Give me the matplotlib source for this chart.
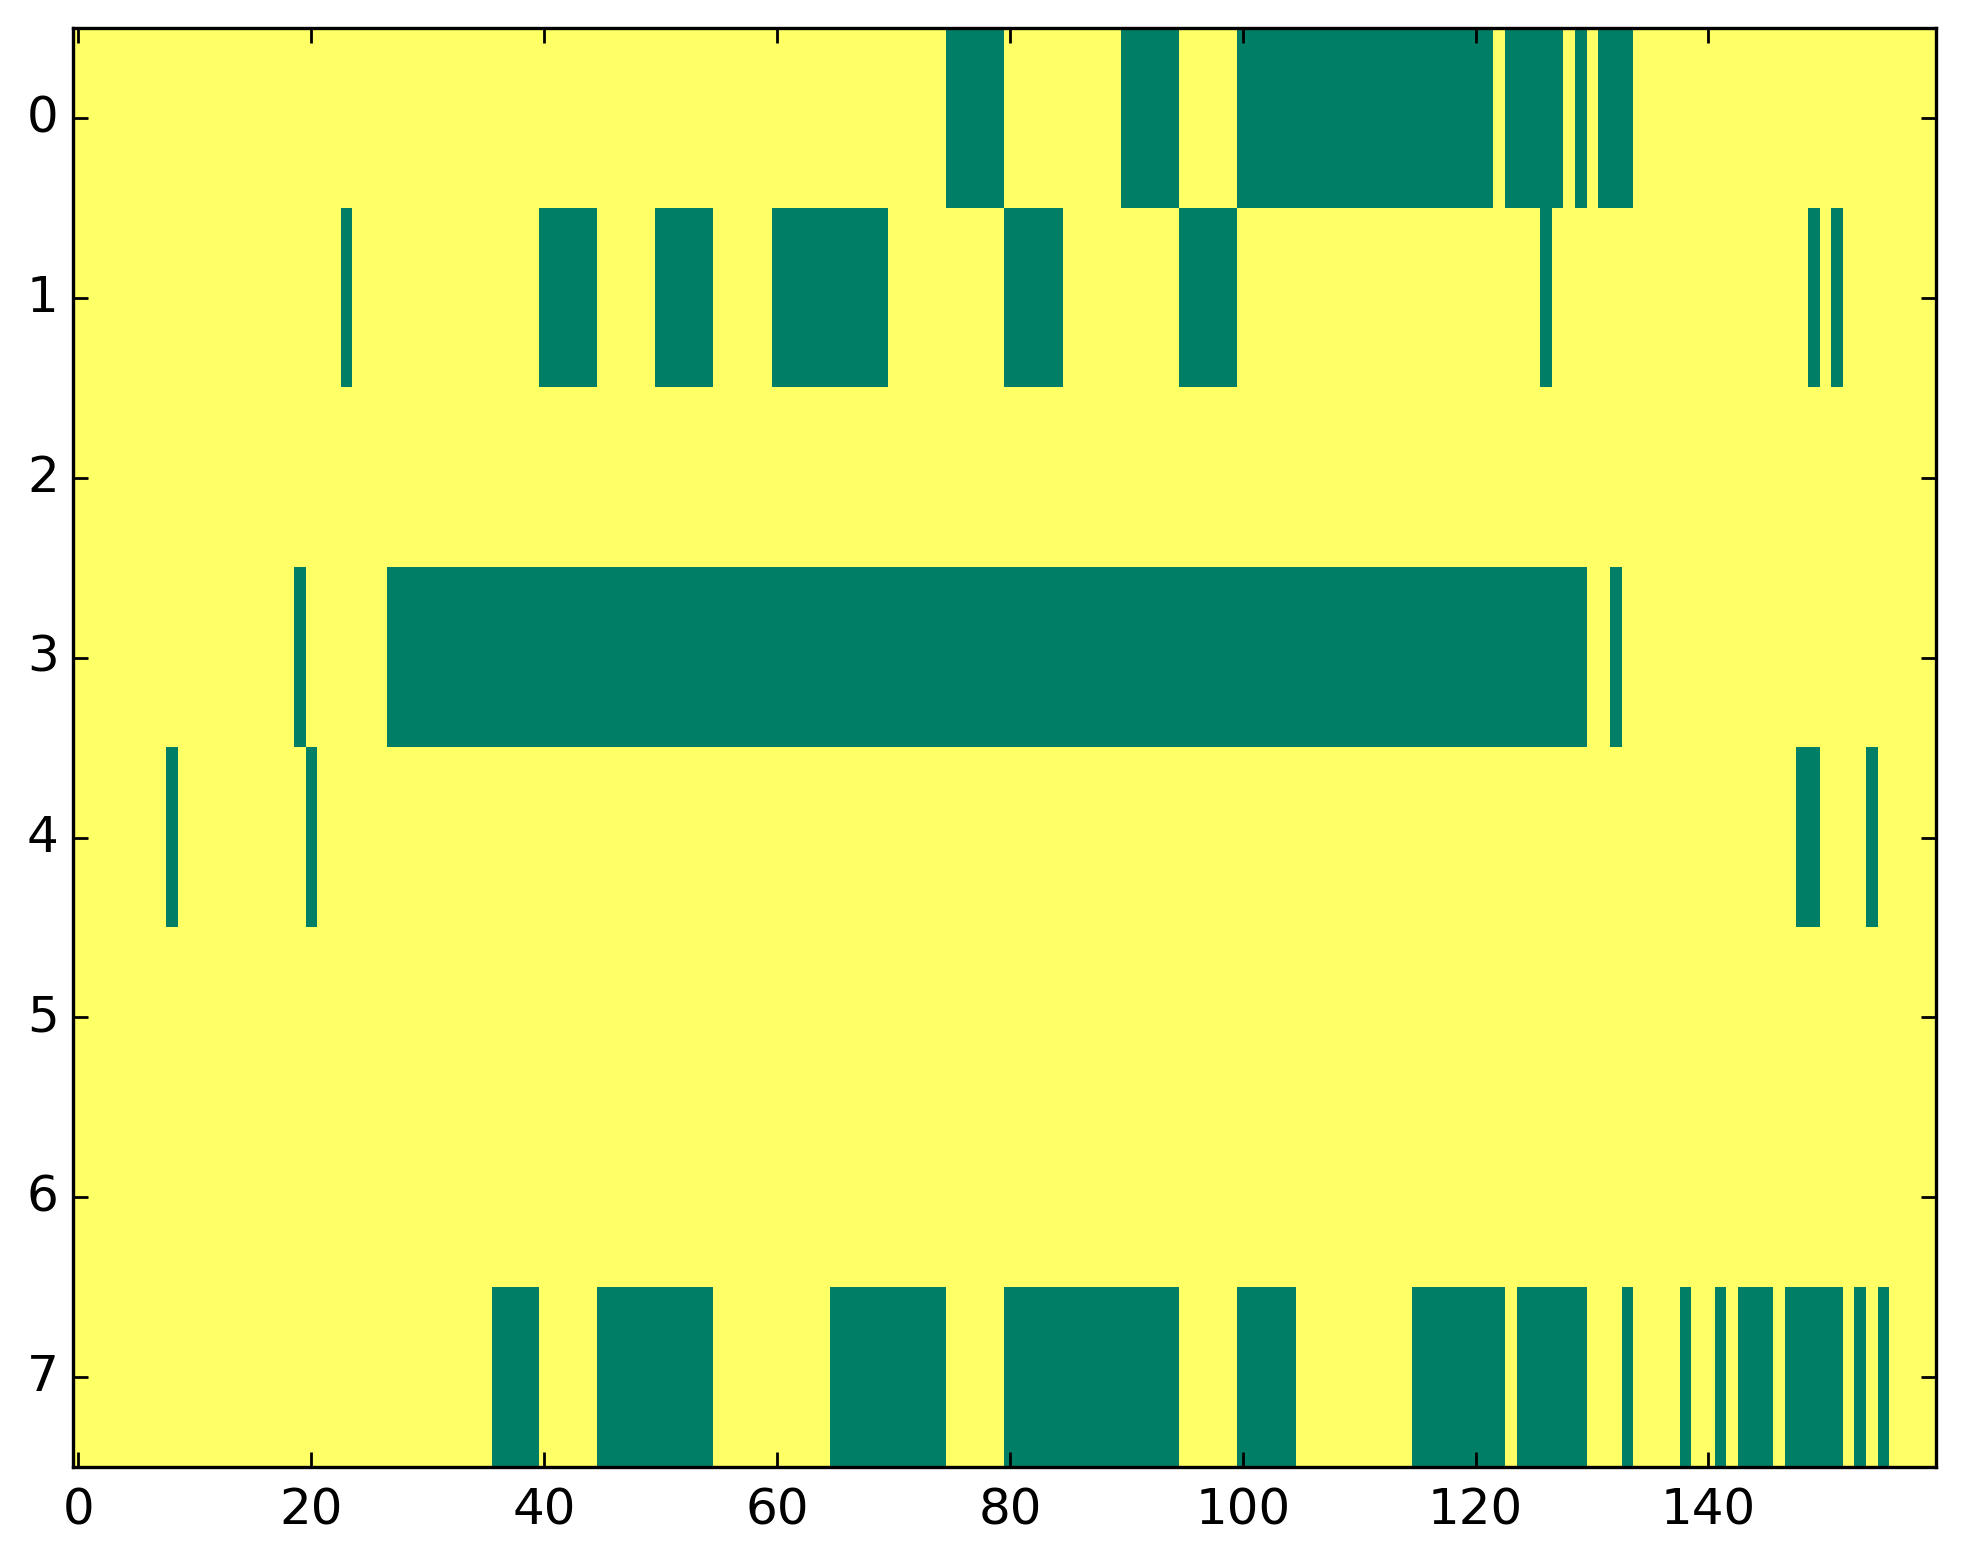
import numpy as np
import matplotlib
matplotlib.use("Agg")
import matplotlib.pyplot as plt

plt.style.use("classic")

n_rows = 8
n_cols = 160

# (start, end) column spans, inclusive, where the row value is 0
row0 = [(75, 79), (90, 94), (100, 121), (123, 127), (129, 129), (131, 133)]
row1 = [(23, 23), (40, 44), (50, 54), (60, 69), (80, 84), (95, 99),
        (126, 126), (149, 149), (151, 151)]
row2 = []
row3 = [(19, 19), (27, 129), (132, 132)]
row4 = [(8, 8), (20, 20), (148, 149), (154, 154)]
row5 = []
row6 = []
row7 = [(36, 39), (45, 54), (65, 74), (80, 94), (100, 104), (115, 122),
        (124, 129), (133, 133), (138, 138), (141, 141), (143, 145),
        (147, 151), (153, 153), (155, 155)]

rows = [row0, row1, row2, row3, row4, row5, row6, row7]

data = np.ones((n_rows, n_cols))
for r, spans in enumerate(rows):
    for a, b in spans:
        data[r, a:b + 1] = 0

fig = plt.figure(figsize=(9.815, 7.82), dpi=200)
ax = fig.add_axes([0.037, 0.062, 0.949, 0.920])
ax.imshow(data, cmap="summer", interpolation="nearest", aspect="auto")
ax.set_xticks(range(0, 160, 20))
ax.set_yticks(range(8))
for s in ax.spines.values():
    s.set_linewidth(1.2)
ax.tick_params(axis="both", labelsize=18, length=5.3, width=1)
ax.tick_params(axis="x", pad=7)
ax.tick_params(axis="y", pad=5)
fig.savefig("out.png", dpi=200)
